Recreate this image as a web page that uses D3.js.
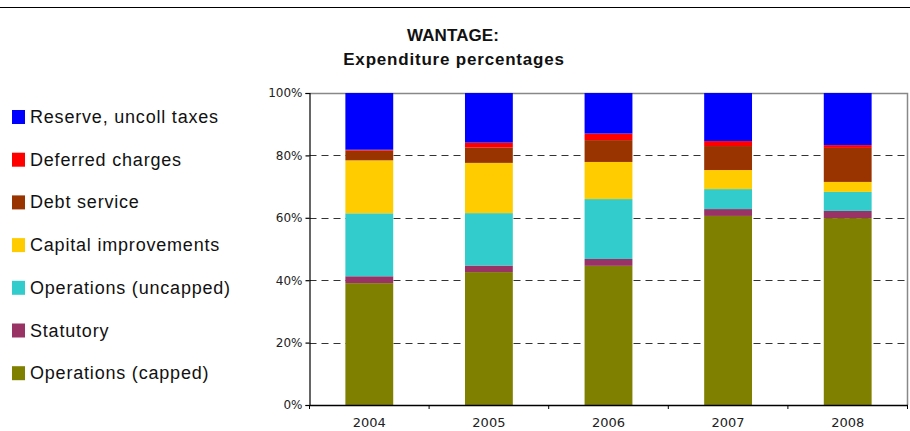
<!DOCTYPE html>
<html>
<head>
<meta charset="utf-8">
<script src="https://cdn.jsdelivr.net/npm/d3@7"></script>
<style>
  body { margin: 0; background: #fff; }
  svg { display: block; }
  .axis text { font-family: "DejaVu Sans", sans-serif; fill: #222; }
  .legend text { font-family: "Liberation Sans", Arial, sans-serif; font-size: 18px; letter-spacing: 0.8px; fill: #111; }
  .title { font-family: "Liberation Sans", Arial, sans-serif; font-weight: bold; font-size: 17px; fill: #111; }
</style>
</head>
<body>
<div id="chart"></div>
<script>
// chart data (percent of expenditure)
var years = ["2004", "2005", "2006", "2007", "2008"];
var opsCapped   = [39.1, 42.6, 44.6, 60.6, 59.9];
var statutory   = [2.2, 2.1, 2.2, 2.2, 2.3];
var opsUncapped = [20.2, 16.8, 19.2, 6.4, 6.1];
var capital     = [17.0, 16.1, 11.9, 6.1, 3.2];
var debt        = [3.1, 4.9, 7.0, 7.7, 10.9];
var deferred    = [0.3, 1.6, 2.1, 1.6, 0.9];
var reserve     = [18.2, 15.9, 13.0, 15.4, 16.7];

var seriesNames = ["Operations (capped)", "Statutory", "Operations (uncapped)",
  "Capital improvements", "Debt service", "Deferred charges", "Reserve, uncoll taxes"];
var seriesValues = [opsCapped, statutory, opsUncapped, capital, debt, deferred, reserve];
var colors = ["#808000", "#993366", "#33cccc", "#ffcc00", "#993300", "#ff0000", "#0000ff"];

var outerWidth = 910, outerHeight = 431;
var plot = { left: 309.5, right: 907.5, top: 93, bottom: 405 };

var svg = d3.select("#chart").append("svg")
  .attr("width", outerWidth)
  .attr("height", outerHeight);

// rule across the top of the page
svg.append("line")
  .attr("x1", 0).attr("x2", outerWidth)
  .attr("y1", 7.5).attr("y2", 7.5)
  .attr("stroke", "#000").attr("stroke-width", 1.2);

// titles
svg.append("text").attr("class", "title")
  .attr("x", 453).attr("y", 41)
  .attr("text-anchor", "middle")
  .style("letter-spacing", "0.1px")
  .text("WANTAGE:");
svg.append("text").attr("class", "title")
  .attr("x", 454).attr("y", 65)
  .attr("text-anchor", "middle")
  .style("letter-spacing", "0.8px")
  .text("Expenditure percentages");

// build table for stacking
var table = years.map(function(y, i) {
  var row = { year: y };
  seriesNames.forEach(function(name, k) { row[name] = seriesValues[k][i]; });
  return row;
});

var stack = d3.stack()
  .keys(seriesNames)
  .offset(d3.stackOffsetExpand);
var stacked = stack(table);

var xScale = d3.scaleBand()
  .domain(years)
  .range([plot.left, plot.right])
  .paddingInner(0.6)
  .paddingOuter(0.3);

var yScale = d3.scaleLinear()
  .domain([0, 1])
  .range([plot.bottom, plot.top]);

var colorScale = d3.scaleOrdinal().domain(seriesNames).range(colors);

// dashed gridlines
svg.append("g")
  .selectAll("line")
  .data([0.2, 0.4, 0.6, 0.8])
  .enter()
  .append("line")
  .attr("x1", plot.left).attr("x2", plot.right)
  .attr("y1", function(d) { return Math.round(yScale(d)) + 0.5; })
  .attr("y2", function(d) { return Math.round(yScale(d)) + 0.5; })
  .attr("stroke", "#333")
  .attr("stroke-dasharray", "7,5");

// plot border top & right (gray)
svg.append("path")
  .attr("d", "M" + plot.left + "," + (plot.top + 0.5) + "H" + plot.right + "V" + plot.bottom)
  .attr("fill", "none")
  .attr("stroke", "#888")
  .attr("stroke-width", 1.5);

// bars
svg.append("g")
  .selectAll("g")
  .data(stacked)
  .enter()
  .append("g")
  .attr("fill", function(d) { return colorScale(d.key); })
  .selectAll("rect")
  .data(function(d) { return d; })
  .enter()
  .append("rect")
  .attr("x", function(d) { return xScale(d.data.year); })
  .attr("y", function(d) { return yScale(d[1]); })
  .attr("width", xScale.bandwidth())
  .attr("height", function(d) { return yScale(d[0]) - yScale(d[1]); });

// y axis
var yAxis = d3.axisLeft(yScale)
  .tickValues([0, 0.2, 0.4, 0.6, 0.8, 1])
  .tickFormat(d3.format(".0%"))
  .tickSize(4)
  .tickPadding(3);
var gy = svg.append("g")
  .attr("class", "axis")
  .attr("transform", "translate(" + plot.left + ",0)")
  .call(yAxis);
gy.selectAll("text").style("font-size", "12px");
gy.selectAll("line, path").attr("stroke", "#000").attr("stroke-width", 1.2);

// x axis: labels under bars, ticks between categories
var xAxis = d3.axisBottom(xScale).tickSize(0).tickPadding(13);
var gx = svg.append("g")
  .attr("class", "axis")
  .attr("transform", "translate(0," + plot.bottom + ")")
  .call(xAxis);
gx.selectAll("text").style("font-size", "13px");
gx.select(".domain").attr("stroke", "#000").attr("stroke-width", 1.5);

var half = (xScale.step() - xScale.bandwidth()) / 2;
var bounds = years.map(function(y) { return xScale(y) - half; }).concat([plot.right]);
gx.selectAll(".sep")
  .data(bounds)
  .enter()
  .append("line")
  .attr("class", "sep")
  .attr("x1", function(d) { return d; }).attr("x2", function(d) { return d; })
  .attr("y1", 0).attr("y2", 4)
  .attr("stroke", "#000");

// legend, top entry first
var legendItems = seriesNames.slice().reverse();
var legend = svg.append("g").attr("class", "legend");
var row = legend.selectAll("g")
  .data(legendItems)
  .enter()
  .append("g")
  .attr("transform", function(d, i) { return "translate(12," + (110 + i * 42.7) + ")"; });
row.append("rect")
  .attr("width", 13).attr("height", 14)
  .attr("fill", function(d) { return colorScale(d); });
row.append("text")
  .attr("x", 18).attr("y", 13)
  .text(function(d) { return d; });
</script>
</body>
</html>
